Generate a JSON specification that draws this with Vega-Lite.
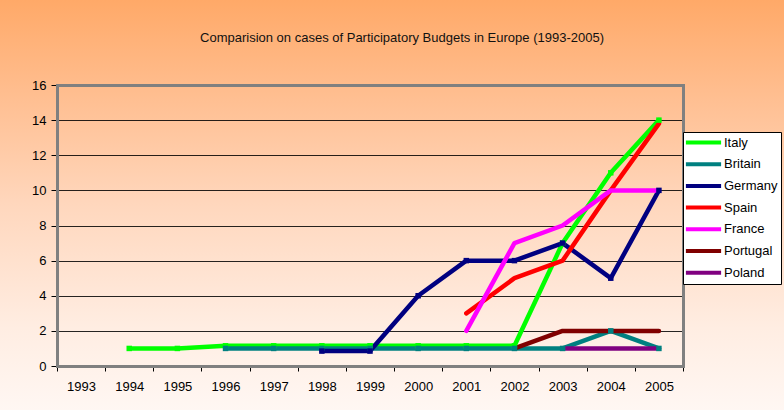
{
  "$schema": "https://vega.github.io/schema/vega-lite/v6.json",
  "width": 784,
  "height": 410,
  "autosize": {"type": "none"},
  "padding": 0,
  "background": "#FFF6F1",
  "config": {
    "font": "Liberation Sans",
    "view": {
      "stroke": null,
      "fill": {
        "gradient": "linear",
        "x1": 0, "y1": 0, "x2": 0, "y2": 1,
        "stops": [
          {"offset": 0, "color": "#FFA968"},
          {"offset": 0.22, "color": "#FFBD8E"},
          {"offset": 0.5, "color": "#FFD7BD"},
          {"offset": 0.8, "color": "#FFEDE2"},
          {"offset": 1, "color": "#FFF7F3"}
        ]
      }
    }
  },
  "title": {
    "text": "Comparision on cases of Participatory Budgets in Europe (1993-2005)",
    "fontSize": 13,
    "fontWeight": "normal",
    "font": "Liberation Sans",
    "color": "#111111",
    "anchor": "middle",
    "frame": "group",
    "baseline": "alphabetic",
    "offset": -55,
    "dx": 10
  },
  "data": {
    "values": [
      {"country": "Italy", "year": 1994, "value": 1},
      {"country": "Italy", "year": 1995, "value": 1},
      {"country": "Italy", "year": 1996, "value": 1.15},
      {"country": "Italy", "year": 1997, "value": 1.15},
      {"country": "Italy", "year": 1998, "value": 1.15},
      {"country": "Italy", "year": 1999, "value": 1.15},
      {"country": "Italy", "year": 2000, "value": 1.15},
      {"country": "Italy", "year": 2001, "value": 1.15},
      {"country": "Italy", "year": 2002, "value": 1.15},
      {"country": "Italy", "year": 2003, "value": 7},
      {"country": "Italy", "year": 2004, "value": 11},
      {"country": "Italy", "year": 2005, "value": 14},
      {"country": "Britain", "year": 1996, "value": 1},
      {"country": "Britain", "year": 1997, "value": 1},
      {"country": "Britain", "year": 1998, "value": 1},
      {"country": "Britain", "year": 1999, "value": 1},
      {"country": "Britain", "year": 2000, "value": 1},
      {"country": "Britain", "year": 2001, "value": 1},
      {"country": "Britain", "year": 2002, "value": 1},
      {"country": "Britain", "year": 2003, "value": 1},
      {"country": "Britain", "year": 2004, "value": 2},
      {"country": "Britain", "year": 2005, "value": 1},
      {"country": "Germany", "year": 1998, "value": 0.85},
      {"country": "Germany", "year": 1999, "value": 0.85},
      {"country": "Germany", "year": 2000, "value": 4},
      {"country": "Germany", "year": 2001, "value": 6},
      {"country": "Germany", "year": 2002, "value": 6},
      {"country": "Germany", "year": 2003, "value": 7},
      {"country": "Germany", "year": 2004, "value": 5},
      {"country": "Germany", "year": 2005, "value": 10},
      {"country": "Spain", "year": 2001, "value": 3},
      {"country": "Spain", "year": 2002, "value": 5},
      {"country": "Spain", "year": 2003, "value": 6},
      {"country": "Spain", "year": 2004, "value": 10},
      {"country": "Spain", "year": 2005, "value": 13.8},
      {"country": "France", "year": 2001, "value": 2},
      {"country": "France", "year": 2002, "value": 7},
      {"country": "France", "year": 2003, "value": 8},
      {"country": "France", "year": 2004, "value": 10},
      {"country": "France", "year": 2005, "value": 10},
      {"country": "Portugal", "year": 2002, "value": 1},
      {"country": "Portugal", "year": 2003, "value": 2},
      {"country": "Portugal", "year": 2004, "value": 2},
      {"country": "Portugal", "year": 2005, "value": 2},
      {"country": "Poland", "year": 2003, "value": 1},
      {"country": "Poland", "year": 2004, "value": 1},
      {"country": "Poland", "year": 2005, "value": 1}
    ]
  },
  "layer": [
    {
      "mark": {"type": "line", "strokeWidth": 4.5, "strokeCap": "round", "strokeJoin": "round"},
      "encoding": {
        "x": {
          "field": "year",
          "type": "ordinal",
          "scale": {
            "type": "band",
            "domain": [1993, 1994, 1995, 1996, 1997, 1998, 1999, 2000, 2001, 2002, 2003, 2004, 2005],
            "range": [57, 683],
            "paddingInner": 0,
            "paddingOuter": 0
          },
          "axis": {
            "orient": "bottom",
            "offset": -44,
            "title": null,
            "grid": false,
            "tickBand": "extent",
            "labelAngle": 0,
            "labelFontSize": 13,
            "labelColor": "#000000",
            "labelPadding": 9,
            "tickColor": "#000000",
            "tickSize": 5,
            "domainColor": "#808080",
            "domainWidth": 3,
            "domainCap": "square"
          }
        },
        "y": {
          "field": "value",
          "type": "quantitative",
          "scale": {"domain": [0, 16], "range": [366, 85], "nice": false, "zero": true},
          "axis": {
            "orient": "left",
            "offset": -57,
            "title": null,
            "values": [0, 2, 4, 6, 8, 10, 12, 14, 16],
            "grid": true,
            "gridColor": "#000000",
            "gridWidth": 1,
            "gridOpacity": 0.85,
            "labelFontSize": 13,
            "labelColor": "#000000",
            "labelPadding": 5,
            "tickColor": "#000000",
            "tickSize": 6,
            "domainColor": "#808080",
            "domainWidth": 3,
            "domainCap": "square"
          }
        },
        "color": {
          "field": "country",
          "type": "nominal",
          "scale": {
            "domain": ["Italy", "Britain", "Germany", "Spain", "France", "Portugal", "Poland"],
            "range": ["#00FF00", "#008080", "#000080", "#FF0000", "#FF00FF", "#800000", "#800080"]
          },
          "legend": {
            "orient": "none",
            "legendX": 683,
            "legendY": 132,
            "title": null,
            "symbolType": "M-3.2,0H3.2",
            "symbolSize": 121,
            "symbolStrokeWidth": 4,
            "symbolOffset": 10,
            "labelOffset": 13,
            "labelFontSize": 13,
            "labelFont": "Liberation Sans",
            "labelColor": "#000000",
            "rowPadding": 4.7,
            "padding": 3,
            "strokeColor": "#000000",
            "fillColor": "#FFFFFF"
          }
        }
      }
    },
    {
      "transform": [{"filter": "datum.country === 'Italy' || datum.country === 'Britain' || datum.country === 'Germany'"}],
      "mark": {"type": "square", "size": 30, "opacity": 1, "filled": true},
      "encoding": {
        "x": {
          "field": "year",
          "type": "ordinal",
          "axis": {
            "orient": "top",
            "offset": -85,
            "title": null,
            "labels": false,
            "ticks": false,
            "grid": false,
            "domainColor": "#808080",
            "domainWidth": 3,
            "domainCap": "square"
          }
        },
        "y": {
          "field": "value",
          "type": "quantitative",
          "axis": {
            "orient": "right",
            "offset": -101,
            "title": null,
            "labels": false,
            "ticks": false,
            "grid": false,
            "domainColor": "#808080",
            "domainWidth": 3,
            "domainCap": "square"
          }
        },
        "color": {
          "field": "country",
          "type": "nominal",
          "scale": {
            "domain": ["Italy", "Britain", "Germany", "Spain", "France", "Portugal", "Poland"],
            "range": ["#00FF00", "#3A9272", "#000080", "#FF0000", "#FF00FF", "#800000", "#800080"]
          },
          "legend": null
        }
      }
    }
  ],
  "resolve": {"axis": {"x": "independent", "y": "independent"}}
}
